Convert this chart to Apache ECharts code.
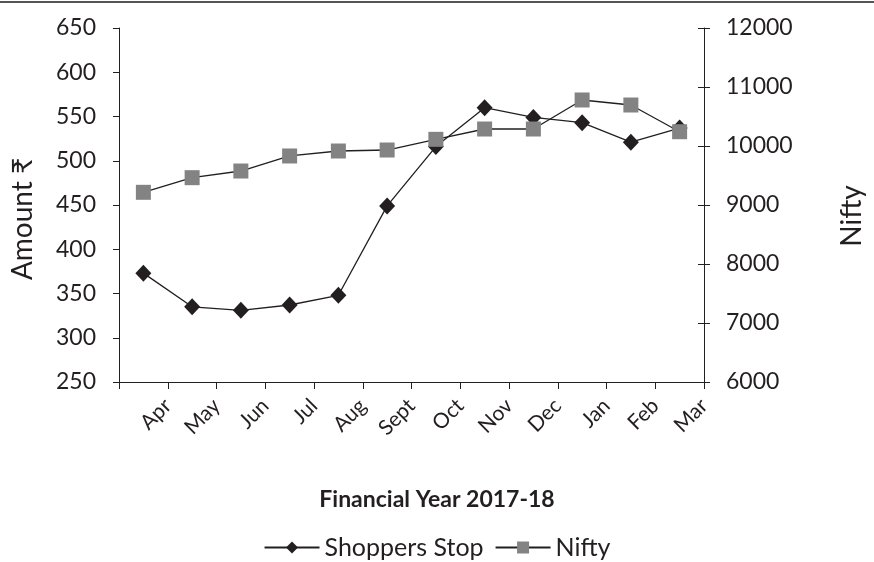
<!DOCTYPE html>
<html>
<head>
<meta charset="utf-8">
<script src="https://cdn.jsdelivr.net/npm/echarts@6/dist/echarts.min.js"></script>
<style>
html,body{margin:0;padding:0;background:#fff;}
#c{width:874px;height:562px;}
</style>
</head>
<body>
<div id="c"></div>
<script>
const categories = ['Apr','May','Jun','Jul','Aug','Sept','Oct','Nov','Dec','Jan','Feb','Mar'];
const shoppersStop = [373,335,331,337,348,449,516,560,549,543,521,537];
const nifty = [9215,9463,9576,9831,9915,9932,10113,10288,10288,10780,10695,10242];
const leftAxis = {min:250,max:650,interval:50,name:'Amount ₹'};
const rightAxis = {min:6000,max:12000,interval:1000,name:'Nifty'};
const xTitle = 'Financial Year 2017-18';

const FONT = 'Lato';
const TXT = '#231f20';
const plain = v => String(v);
const chart = echarts.init(document.getElementById('c'));
chart.setOption({
  animation:false,
  backgroundColor:'#fff',
  textStyle:{fontFamily:FONT,color:TXT},
  title:{text:xTitle,left:'center',top:483,textStyle:{fontFamily:FONT,fontWeight:'bold',fontSize:23,color:TXT}},
  legend:{
    bottom:-3,left:'center',itemWidth:55,itemHeight:15,itemGap:11,
    textStyle:{fontFamily:FONT,fontSize:25,color:TXT},
    data:['Shoppers Stop','Nifty']
  },
  graphic:[{type:'line',shape:{x1:0,y1:2,x2:874,y2:2},style:{stroke:'#555',lineWidth:2}}],
  grid:{left:119,right:163,top:28,bottom:180},
  xAxis:{
    type:'category',data:categories,boundaryGap:true,
    axisLine:{lineStyle:{color:TXT,width:1}},
    axisTick:{show:true,alignWithLabel:false,length:7,lineStyle:{color:TXT}},
    axisLabel:{rotate:45,interval:0,fontSize:21,color:TXT,fontFamily:FONT,margin:-4,verticalAlign:'top',padding:[24,0,0,0]}
  },
  yAxis:[
    {type:'value',position:'left',min:leftAxis.min,max:leftAxis.max,interval:leftAxis.interval,
     name:leftAxis.name,nameLocation:'middle',nameGap:82,nameRotate:90,
     nameTextStyle:{fontSize:28,color:TXT,fontFamily:FONT,padding:[0,28,0,0]},
     axisLine:{show:true,lineStyle:{color:TXT}},
     axisTick:{show:true,length:6,lineStyle:{color:TXT}},
     axisLabel:{fontSize:23,color:TXT,fontFamily:FONT,margin:23,formatter:plain},
     splitLine:{show:false}},
    {type:'value',position:'right',min:rightAxis.min,max:rightAxis.max,interval:rightAxis.interval,
     name:rightAxis.name,nameLocation:'middle',nameGap:134,nameRotate:90,
     nameTextStyle:{fontSize:28,color:TXT,fontFamily:FONT,padding:[0,22,0,0]},
     axisLine:{show:true,lineStyle:{color:TXT}},
     axisTick:{show:true,length:6,lineStyle:{color:TXT}},
     axisLabel:{fontSize:23,color:TXT,fontFamily:FONT,margin:22,formatter:plain},
     splitLine:{show:false}},
    {type:'value',position:'right',min:rightAxis.min,max:rightAxis.max,interval:rightAxis.interval,
     axisLine:{show:false},
     axisTick:{show:true,inside:true,length:6,lineStyle:{color:TXT}},
     axisLabel:{show:false},splitLine:{show:false}}
  ],
  series:[
    {name:'Shoppers Stop',type:'line',yAxisIndex:0,data:shoppersStop,
     symbol:'diamond',symbolSize:[16,17],
     itemStyle:{color:TXT},lineStyle:{color:TXT,width:1.3}},
    {name:'Nifty',type:'line',yAxisIndex:1,data:nifty,
     symbol:'rect',symbolSize:15,
     itemStyle:{color:'#838383'},lineStyle:{color:TXT,width:1.3}}
  ]
});
</script>
</body>
</html>
